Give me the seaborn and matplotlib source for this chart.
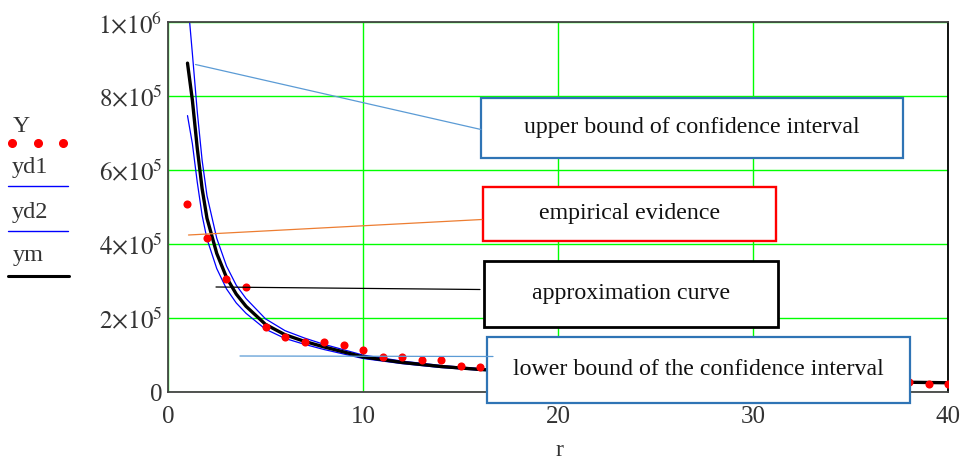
import matplotlib
matplotlib.use("Agg")
import matplotlib.pyplot as plt
import seaborn as sns
import pandas as pd
from matplotlib.lines import Line2D
from matplotlib.patches import Rectangle

# empirical evidence Y(r), r = 1..40 (17..37 sit behind the lower label box)
r_emp = list(range(1, 41))
Y = [509000, 416000, 307000, 283000, 177000, 150000, 136000, 135000, 126000, 114000,
     96000, 96000, 86000, 86000, 71000, 67000, 62000, 60000, 57000, 52000,
     50000, 47000, 45000, 42000, 40000, 39000, 37000, 36000, 34000, 33000,
     32000, 31000, 30000, 29000, 28000, 28000, 27000, 28000, 22000, 22000]

# curves
r_fit = [1, 1.25, 1.5, 1.75, 2, 2.5, 3, 3.5, 4, 5, 6, 7, 8, 10, 12, 14, 16, 20, 25, 30, 35, 40]
ym = [890000, 790000, 660000, 550000, 470000, 375000, 310000, 265000, 232000, 183000, 155000,
      137000, 122000, 95000, 80000, 69000, 61000, 49000, 39500, 33000, 28500, 25000]
yd1 = [1068000, 916000, 759000, 627000, 531000, 416000, 341000, 289000, 253000, 198000, 166000,
       146000, 129000, 100000, 83600, 71800, 63400, 50700, 40700, 34000, 29400, 25700]
yd2 = [748000, 672000, 568000, 478000, 414000, 334000, 279000, 241000, 213000, 170000, 145000,
       129000, 115000, 90700, 76800, 66200, 58900, 47300, 38300, 32000, 27600, 24200]

y_ticks = [0, 200000, 400000, 600000, 800000, 1000000]
y_labels = ["0", r"$2{\times}10^{5}$", r"$4{\times}10^{5}$", r"$6{\times}10^{5}$",
            r"$8{\times}10^{5}$", r"$1{\times}10^{6}$"]
x_ticks = [0, 10, 20, 30, 40]

legend_names = ["Y", "yd1", "yd2", "ym"]
box_texts = ["upper bound of confidence interval", "empirical evidence",
             "approximation curve", "lower bound of the confidence interval"]

W, H = 970, 461


def fx(x):
    return x / W


def fy(y):
    return 1 - y / H


sns.set_style("white")
plt.rcParams['font.family'] = ['Liberation Serif', 'DejaVu Serif']
plt.rcParams['mathtext.fontset'] = 'stix'

fig = plt.figure(figsize=(9.7, 4.61), dpi=100)
ax = fig.add_axes([fx(168), fy(392), (948 - 168) / W, (392 - 22.5) / H])

fit = pd.DataFrame({"r": r_fit, "ym": ym, "yd1": yd1, "yd2": yd2})
emp = pd.DataFrame({"r": r_emp, "Y": Y})

sns.lineplot(data=fit, x="r", y="yd1", color="#0000FF", lw=0.9, ax=ax)
sns.lineplot(data=fit, x="r", y="yd2", color="#0000FF", lw=0.9, ax=ax)
sns.lineplot(data=fit, x="r", y="ym", color="black", lw=2.4, ax=ax)
sns.scatterplot(data=emp, x="r", y="Y", color="#FF0000", s=34, linewidth=0, ax=ax, zorder=3)

ax.set_xlim(0, 40)
ax.set_ylim(0, 1000000)
ax.set_xticks(x_ticks)
ax.set_yticks(y_ticks)
ax.set_yticklabels(y_labels)
ax.tick_params(length=0, labelsize=18, colors="#333333")
ax.tick_params(axis="x", pad=10)
ax.tick_params(axis="y", pad=4)
ax.set_xlabel("")
ax.set_ylabel("")
ax.grid(True, color="#00FF00", lw=1.0)
for s in ax.spines.values():
    s.set_color("#444444")
    s.set_linewidth(1.3)
ax.spines["right"].set_color("black")

fig.text(fx(559.5), fy(456), "r", fontsize=17, ha="center", va="baseline", color="#333333")

# trace legend on the left (Mathcad style)
lx0, lx1 = 8, 68
fig.text(fx(13), fy(132), legend_names[0], fontsize=17, ha="left", va="baseline", color="#333333")
for dx in [12.5, 38, 63.5]:
    fig.add_artist(Line2D([fx(dx)], [fy(143.5)], marker="o", ms=5.5, color="#FF0000", lw=0))
fig.text(fx(11.5), fy(173), legend_names[1], fontsize=17.5, ha="left", va="baseline", color="#333333")
fig.add_artist(Line2D([fx(lx0), fx(lx1)], [fy(186), fy(186)], color="#0000FF", lw=1.0))
fig.text(fx(11.5), fy(218), legend_names[2], fontsize=17.5, ha="left", va="baseline", color="#333333")
fig.add_artist(Line2D([fx(lx0), fx(lx1)], [fy(231), fy(231)], color="#0000FF", lw=1.0))
fig.text(fx(12.5), fy(261), legend_names[3], fontsize=17.5, ha="left", va="baseline", color="#333333")
fig.add_artist(Line2D([fx(lx0), fx(lx1 + 1)], [fy(276), fy(276)], color="black", lw=2.2))

# label boxes: (left, top, right, bottom) in pixels, edge colour, edge width
boxes = [
    ((481, 98, 903, 158), "#2F74B5", 1.6),
    ((483.5, 187, 776, 241), "#FF0000", 1.7),
    ((484, 260.5, 778, 327), "black", 2.0),
    ((487.5, 337, 910, 402.5), "#2F74B5", 1.6),
]
for (l, t, rr, b), ec, lw in boxes:
    fig.add_artist(Rectangle((fx(l), fy(b)), (rr - l) / W, (b - t) / H,
                             transform=fig.transFigure, facecolor="white",
                             edgecolor=ec, lw=lw, zorder=4))
for ((l, t, rr, b), ec, lw), txt in zip(boxes, box_texts):
    fig.text(fx((l + rr) / 2), fy((t + b) / 2), txt, fontsize=17.2, ha="center",
             va="center", color="#111111", zorder=5)

# connector lines
connectors = [
    ((195.5, 64.5), (481, 129.5), "#5B9BD5", 0.9),
    ((188.5, 235), (482, 219.5), "#ED7D31", 0.9),
    ((216, 287), (480, 289.5), "black", 0.9),
    ((240, 356), (493, 356.5), "#5B9BD5", 0.9),
]
for (x0, y0), (x1, y1), c, lw in connectors:
    fig.add_artist(Line2D([fx(x0), fx(x1)], [fy(y0), fy(y1)], color=c, lw=lw, zorder=6))

fig.savefig("out.png", dpi=100)
